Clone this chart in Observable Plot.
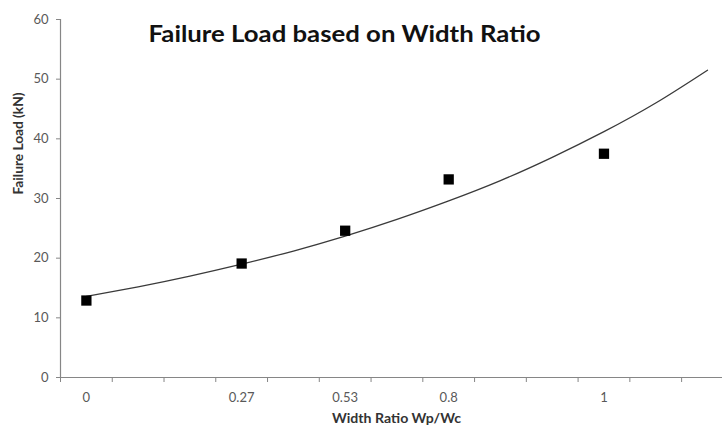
<!DOCTYPE html>
<html>
<head>
<meta charset="utf-8">
<script src="https://cdn.jsdelivr.net/npm/d3@7"></script>
<script src="https://cdn.jsdelivr.net/npm/@observablehq/plot@0.6"></script>
<style>
  html, body { margin: 0; padding: 0; background: #fff; }
  #chart { width: 722px; height: 429px; }
</style>
</head>
<body>
<div id="chart"></div>
<script>
// Category positions (Excel category axis) and their labels
const categoryIndex = [0, 3, 5, 7, 10];
const ratioLabels = ["0", "0.27", "0.53", "0.8", "1"];
// Measured failure loads (kN)
const failureLoad = [12.9, 19.1, 24.6, 33.2, 37.5];
// Exponential trendline at each category slot
const trendIndex = [0, 1, 2, 3, 4, 5, 6, 7, 8, 9, 10, 11, 12];
const trendLoad = [13.6, 15.2, 17.0, 19.0, 21.2, 23.7, 26.5, 29.6, 33.0, 36.9, 41.2, 46.0, 51.5];
// Axis ticks
const yTicks = [0, 10, 20, 30, 40, 50, 60];
const xTickMarks = [-0.5, 0.5, 1.5, 2.5, 3.5, 4.5, 5.5, 6.5, 7.5, 8.5, 9.5, 10.5, 11.5];

const titleText = "Failure Load based on Width Ratio";
const xTitle = "Width Ratio Wp/Wc";
const yTitle = "Failure Load (kN)";

const points = categoryIndex.map((x, i) => ({x, y: failureLoad[i]}));
const trend = trendIndex.map((x, i) => ({x, y: trendLoad[i]}));
const labelOf = new Map(categoryIndex.map((x, i) => [x, ratioLabels[i]]));

const axisColor = "#868686";
const textColor = "#595959";

const chart = Plot.plot({
  width: 722,
  height: 429,
  marginLeft: 60,
  marginRight: 0,
  marginTop: 19,
  marginBottom: 52,
  style: {fontFamily: "Lato, 'Open Sans', sans-serif", background: "#fff"},
  x: {type: "linear", domain: [-0.5, 12.29], axis: null},
  y: {domain: [0, 60], axis: null},
  marks: [
    Plot.axisY({ticks: yTicks, tickSize: 4, tickPadding: 8, stroke: axisColor, fill: textColor, fontSize: 13, label: null}),
    Plot.axisX({ticks: xTickMarks, tickSize: 5, tickFormat: () => "", stroke: axisColor, label: null}),
    Plot.axisX({ticks: categoryIndex, tickSize: 0, tickPadding: 15, tickFormat: d => labelOf.get(d), fill: textColor, fontSize: 13, label: null}),
    Plot.ruleY([0], {stroke: axisColor, strokeWidth: 1.2}),
    Plot.ruleX([-0.5], {y1: 0, y2: 60, stroke: axisColor, strokeWidth: 1.2}),
    Plot.line(trend, {x: "x", y: "y", curve: "natural", stroke: "#3a3a3a", strokeWidth: 1.3}),
    Plot.dot(points, {x: "x", y: "y", symbol: "square", r: 5.8, fill: "#000", stroke: "none"}),
    Plot.text([titleText], {frameAnchor: "top-left", textAnchor: "start", lineAnchor: "bottom", dx: 88, dy: 22, fontSize: 22, fontWeight: "bold", fill: "#111"}),
    Plot.text([xTitle], {frameAnchor: "bottom", lineAnchor: "middle", dx: 5, dy: 41, fontSize: 12.5, fontWeight: "bold", fill: "#333"}),
    Plot.text([yTitle], {frameAnchor: "left", lineAnchor: "middle", rotate: -90, dx: -42, dy: -4, fontSize: 12.5, fontWeight: "bold", fill: "#333"})
  ]
});
document.getElementById("chart").appendChild(chart);

// Stretch the Calibri-like titles horizontally to match the reference widths
const stretch = new Map([[titleText, 392], [xTitle, 129], [yTitle, 102]]);
d3.select(chart).selectAll("text").each(function () {
  const w = stretch.get(this.textContent);
  if (w) d3.select(this).attr("textLength", w).attr("lengthAdjust", "spacingAndGlyphs");
});
</script>
</body>
</html>
